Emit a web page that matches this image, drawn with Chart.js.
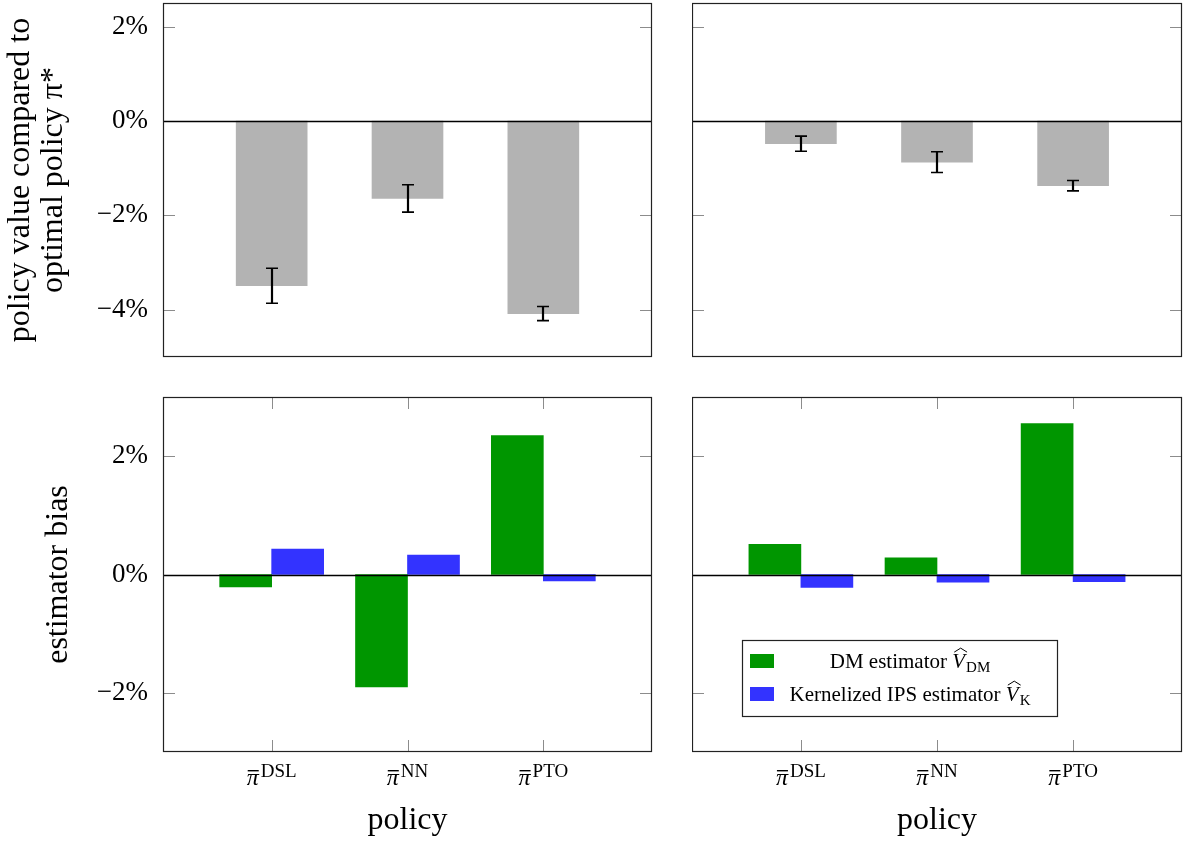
<!DOCTYPE html>
<html>
<head>
<meta charset="utf-8">
<script src="https://cdn.jsdelivr.net/npm/chart.js@4.4.1/dist/chart.umd.min.js"></script>
<style>
html,body{margin:0;padding:0;background:#fff;width:1183px;height:846px;overflow:hidden}
.p{position:absolute}
canvas{display:block}
</style>
</head>
<body>
<div class="p" style="left:0;top:0;width:655px;height:360px"><canvas id="tl" width="655" height="360"></canvas></div>
<div class="p" style="left:692px;top:0;width:491px;height:360px"><canvas id="tr" width="491" height="360"></canvas></div>
<div class="p" style="left:0;top:390px;width:655px;height:456px"><canvas id="bl" width="655" height="456"></canvas></div>
<div class="p" style="left:692px;top:390px;width:491px;height:456px"><canvas id="br" width="491" height="456"></canvas></div>
<script>
// ---------- data ----------
const policies = ['DSL', 'NN', 'PTO'];
const policyPos = [1, 2, 3];
const xRange = [0.2, 3.8];

const valueLeft  = [-3.49, -1.64, -4.08];
const errLeft    = [0.37, 0.29, 0.15];
const valueRight = [-0.48, -0.87, -1.37];
const errRight   = [0.16, 0.22, 0.11];

const biasDMLeft  = [-0.21, -1.90, 2.35];
const biasKLeft   = [0.43, 0.33, -0.11];
const biasDMRight = [0.51, 0.28, 2.55];
const biasKRight  = [-0.22, -0.13, -0.12];

const yTicksTop = [-4, -2, 0, 2];
const yRangeTop = [-5, 2.5];
const yTicksBottom = [-2, 0, 2];
const yRangeBottom = [-3, 3];

const topYTitle = ['policy value compared to', 'optimal policy \u03C0*'];
const bottomYTitle = 'estimator bias';
const xTitle = 'policy';
const legendMain = ['DM estimator ', 'Kernelized IPS estimator '];
const legendSub = ['DM', 'K'];

const GRAY = '#b3b3b3', GREEN = '#009600', BLUE = '#3333ff';
const SERIF = '"Liberation Serif", "DejaVu Serif", serif';
const TITLE_SIZE = 32;

// ---------- plugin: frame, ticks, zero line, error bars, labels, legend ----------
const framePlugin = {
  id: 'frame',
  afterDatasetsDraw(chart, args, o) {
    const {ctx, chartArea: a, scales: {x, y}} = chart;
    ctx.save();
    if (o.err) {
      ctx.strokeStyle = '#000';
      o.err.forEach((e, i) => {
        const v = o.vals[i];
        const px = Math.round(x.getPixelForValue(policyPos[i]));
        const y1 = y.getPixelForValue(v + e), y2 = y.getPixelForValue(v - e);
        ctx.lineWidth = 2.2;
        ctx.beginPath(); ctx.moveTo(px, y1); ctx.lineTo(px, y2); ctx.stroke();
        ctx.lineWidth = 1.6;
        ctx.beginPath();
        ctx.moveTo(px - 6, y1); ctx.lineTo(px + 6, y1);
        ctx.moveTo(px - 6, y2); ctx.lineTo(px + 6, y2);
        ctx.stroke();
      });
    }
    ctx.strokeStyle = '#8c8c8c'; ctx.lineWidth = 1;
    o.yTicks.forEach(v => {
      const py = Math.round(y.getPixelForValue(v)) + 0.5;
      ctx.beginPath();
      ctx.moveTo(a.left, py); ctx.lineTo(a.left + 12, py);
      ctx.moveTo(a.right - 12, py); ctx.lineTo(a.right, py);
      ctx.stroke();
    });
    if (o.xTicks) {
      policyPos.forEach(p => {
        const px = Math.round(x.getPixelForValue(p)) + 0.5;
        ctx.beginPath();
        ctx.moveTo(px, a.top); ctx.lineTo(px, a.top + 12);
        ctx.moveTo(px, a.bottom); ctx.lineTo(px, a.bottom - 12);
        ctx.stroke();
      });
    }
    const y0 = Math.round(y.getPixelForValue(0)) + 0.5;
    ctx.strokeStyle = '#000'; ctx.lineWidth = 1.3;
    ctx.beginPath(); ctx.moveTo(a.left, y0); ctx.lineTo(a.right, y0); ctx.stroke();
    ctx.strokeStyle = '#222'; ctx.lineWidth = 1.2;
    ctx.strokeRect(a.left + 0.5, a.top + 0.5, a.width - 1, a.height - 1);
    ctx.restore();
  },
  afterDraw(chart, args, o) {
    const {ctx, chartArea: a, scales: {x}} = chart;
    ctx.save();
    ctx.fillStyle = '#000';
    ctx.textAlign = 'left'; ctx.textBaseline = 'alphabetic';
    if (o.xLabels) {
      policies.forEach((name, i) => {
        const px = x.getPixelForValue(policyPos[i]);
        ctx.font = 'italic 24px ' + SERIF;
        const piW = ctx.measureText('\u03C0').width;
        ctx.font = '19px ' + SERIF;
        const supW = ctx.measureText(name).width;
        const start = px - (piW + 2 + supW) / 2;
        const base = a.bottom + 33;
        ctx.font = 'italic 24px ' + SERIF;
        ctx.fillText('\u03C0', start, base);
        ctx.fillRect(start + 1, base - 15, piW - 1, 1.4);
        ctx.font = '19px ' + SERIF;
        ctx.fillText(name, start + piW + 2, base - 8);
      });
    }
    if (o.legend) {
      const L = a.left + 50, T = a.top + 243, W = 315, H = 76;
      ctx.fillStyle = '#fff';
      ctx.fillRect(L, T, W, H);
      ctx.strokeStyle = '#222'; ctx.lineWidth = 1.2;
      ctx.strokeRect(L + 0.5, T + 0.5, W, H);
      const ds = chart.data.datasets;
      const fs = 21;
      ds.forEach((d, i) => {
        const cy = T + 21 + i * 33;
        ctx.fillStyle = d.backgroundColor;
        ctx.fillRect(L + 8, cy - 7, 24, 14);
        ctx.fillStyle = '#000';
        ctx.font = fs + 'px ' + SERIF;
        const w1 = ctx.measureText(legendMain[i]).width;
        ctx.font = 'italic ' + fs + 'px ' + SERIF;
        const w2 = ctx.measureText('V').width;
        ctx.font = '15px ' + SERIF;
        const w3 = ctx.measureText(legendSub[i]).width;
        const total = w1 + w2 + 1 + w3;
        let sx = L + 168 - total / 2;
        const base = cy + 7;
        ctx.font = fs + 'px ' + SERIF;
        ctx.fillText(legendMain[i], sx, base); sx += w1;
        ctx.font = 'italic ' + fs + 'px ' + SERIF;
        ctx.fillText('V', sx, base);
        // wide hat over V
        const top = base - fs * 0.66 - 2;
        ctx.strokeStyle = '#000'; ctx.lineWidth = 1;
        ctx.beginPath();
        ctx.moveTo(sx + 2, top); ctx.lineTo(sx + 2 + w2 / 2, top - 4); ctx.lineTo(sx + 2 + w2, top);
        ctx.stroke();
        sx += w2 + 1;
        ctx.font = '15px ' + SERIF;
        ctx.fillText(legendSub[i], sx, base + 4);
      });
    }
    ctx.restore();
  }
};

function yTickLabel(v) {
  return (v < 0 ? '\u2212' : '') + Math.abs(v) + '%';
}

function makeChart(id, opts) {
  const xAxis = {
    type: 'linear', min: xRange[0], max: xRange[1], offset: false,
    grid: {display: false, drawTicks: false}, border: {display: false},
    ticks: {display: false},
    afterBuildTicks: s => { s.ticks = policyPos.map(v => ({value: v})); },
    afterFit: s => { s.height = opts.xHeight; s.paddingLeft = 0; s.paddingRight = 0; },
    title: opts.xTitle ? {display: true, text: xTitle, color: '#000',
      font: {family: SERIF, size: TITLE_SIZE, lineHeight: 1.2}, padding: {top: 0, bottom: 6}} : {display: false}
  };
  const yAxis = {
    min: opts.yRange[0], max: opts.yRange[1],
    grid: {display: false, drawTicks: false}, border: {display: false},
    ticks: {display: opts.yLabels, padding: 15, color: '#000',
      font: {family: SERIF, size: 27}, callback: yTickLabel},
    afterBuildTicks: s => { s.ticks = opts.yTicks.map(v => ({value: v})); },
    afterFit: s => { s.width = opts.yWidth; s.paddingTop = 0; s.paddingBottom = 0; },
    title: opts.yTitle ? {display: true, text: opts.yTitle, color: '#000',
      font: {family: SERIF, size: TITLE_SIZE, lineHeight: 1.03}, padding: {top: opts.yTitlePad, bottom: 0}} : {display: false}
  };
  return new Chart(document.getElementById(id), {
    type: 'bar',
    data: {datasets: opts.datasets},
    options: {
      responsive: false, animation: false, devicePixelRatio: 1,
      layout: {padding: opts.padding},
      plugins: {
        legend: {display: false}, tooltip: {enabled: false},
        frame: opts.frame
      },
      scales: {x: xAxis, y: yAxis}
    },
    plugins: [framePlugin]
  });
}

const pts = vals => policyPos.map((p, i) => ({x: p, y: vals[i]}));

makeChart('tl', {
  datasets: [{label: 'policy value', data: pts(valueLeft), backgroundColor: GRAY, barThickness: 71, borderWidth: 0}],
  padding: {top: 3, right: 3, bottom: 3, left: 0},
  xHeight: 0, yWidth: 163, yRange: yRangeTop, yTicks: yTicksTop, yLabels: true,
  yTitle: topYTitle, yTitlePad: 4.5,
  frame: {err: errLeft, vals: valueLeft, yTicks: yTicksTop, xTicks: false}
});
makeChart('tr', {
  datasets: [{label: 'policy value', data: pts(valueRight), backgroundColor: GRAY, barThickness: 71, borderWidth: 0}],
  padding: {top: 3, right: 1, bottom: 3, left: 0},
  xHeight: 0, yWidth: 0, yRange: yRangeTop, yTicks: yTicksTop, yLabels: false,
  frame: {err: errRight, vals: valueRight, yTicks: yTicksTop, xTicks: false}
});
const biasSets = (dm, k) => [
  {label: legendMain[0] + legendSub[0], data: pts(dm), backgroundColor: GREEN, barThickness: 52, borderWidth: 0},
  {label: legendMain[1] + legendSub[1], data: pts(k), backgroundColor: BLUE, barThickness: 52, borderWidth: 0}
];
makeChart('bl', {
  datasets: biasSets(biasDMLeft, biasKLeft),
  padding: {top: 7, right: 3, bottom: 0, left: 0},
  xHeight: 94, xTitle: true, yWidth: 163, yRange: yRangeBottom, yTicks: yTicksBottom, yLabels: true,
  yTitle: bottomYTitle, yTitlePad: 42.5,
  frame: {yTicks: yTicksBottom, xTicks: true, xLabels: true}
});
makeChart('br', {
  datasets: biasSets(biasDMRight, biasKRight),
  padding: {top: 7, right: 1, bottom: 0, left: 0},
  xHeight: 94, xTitle: true, yWidth: 0, yRange: yRangeBottom, yTicks: yTicksBottom, yLabels: false,
  frame: {yTicks: yTicksBottom, xTicks: true, xLabels: true, legend: true}
});
</script>
</body>
</html>
